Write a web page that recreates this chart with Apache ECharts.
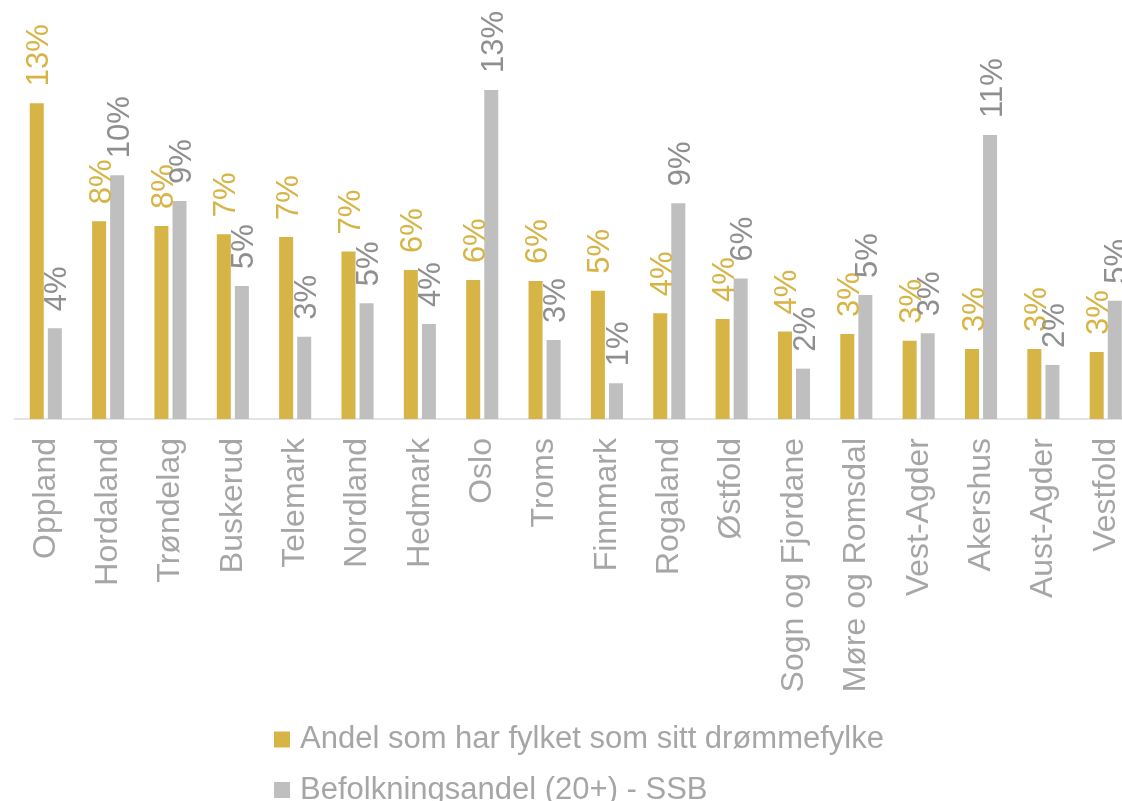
<!DOCTYPE html>
<html>
<head>
<meta charset="utf-8">
<title>Drømmefylke</title>
<script src="https://cdn.jsdelivr.net/npm/echarts@6/dist/echarts.min.js"></script>
<style>
  html, body { margin: 0; padding: 0; background: #fff; }
  #chart { width: 1122px; height: 801px; }
</style>
</head>
<body>
<div id="chart"></div>
<script>
const fylker = [
  'Oppland', 'Hordaland', 'Trøndelag', 'Buskerud', 'Telemark', 'Nordland',
  'Hedmark', 'Oslo', 'Troms', 'Finnmark', 'Rogaland', 'Østfold',
  'Sogn og Fjordane', 'Møre og Romsdal', 'Vest-Agder', 'Akershus', 'Aust-Agder', 'Vestfold'
]

// percent values
const drommefylke = [12.73, 7.97, 7.78, 7.45, 7.34, 6.75, 6.01, 5.60, 5.56, 5.17, 4.26, 4.03, 3.53, 3.43, 3.16, 2.82, 2.82, 2.70]
const befolkning = [3.66, 9.83, 8.79, 5.36, 3.32, 4.67, 3.83, 13.27, 3.19, 1.44, 8.70, 5.67, 2.03, 5.00, 3.46, 11.45, 2.18, 4.77]

const seriesNames = ['Andel som har fylket som sitt drømmefylke', 'Befolkningsandel (20+) - SSB']

const palette = {
  gold: '#d6b445',
  grey: '#bfbfbf',
  greyLabel: '#8f8f8f',
  text: '#a6a6a6',
  axis: '#e3e3e3',
}
const font = "'Liberation Sans', Arial, sans-serif"

const pct = (p) => `${Math.round(p.value)}%`

function barSeries(name, data, color, labelColor) {
  return {
    name,
    type: 'bar',
    data,
    barWidth: 14,
    barGap: '29%',
    itemStyle: { color },
    label: {
      show: true,
      position: 'top',
      rotate: 90,
      align: 'left',
      verticalAlign: 'middle',
      distance: 17,
      // offset is in the rotated frame: second value nudges the text right
      offset: [0, 3],
      color: labelColor,
      fontSize: 31,
      fontFamily: font,
      formatter: pct,
    },
  }
}

// one legend per row, stacked under the axis labels
function legendRow(name, top) {
  return {
    data: [name],
    left: 269,
    top,
    itemWidth: 16,
    itemHeight: 16,
    icon: 'rect',
    textStyle: {
      color: palette.text,
      fontSize: 31,
      fontFamily: font,
      padding: [0, 0, 0, 5],
    },
  }
}

const chart = echarts.init(document.getElementById('chart'), null, { renderer: 'canvas' })

chart.setOption({
  backgroundColor: '#fff',
  animation: false,
  grid: {
    left: 14.6,
    right: -14.9,
    top: 22.2,
    bottom: 382,
    containLabel: false,
    outerBoundsMode: 'none',
  },
  legend: [
    legendRow(seriesNames[0], 719),
    legendRow(seriesNames[1], 769.5),
  ],
  xAxis: {
    type: 'category',
    data: fylker,
    axisLine: { lineStyle: { color: palette.axis, width: 2 } },
    axisTick: { show: false },
    axisLabel: {
      interval: 0,
      rotate: 90,
      margin: 19,
      color: palette.text,
      fontSize: 32,
      fontFamily: font,
    },
    splitLine: { show: false },
  },
  yAxis: {
    type: 'value',
    min: 0,
    max: 16,
    show: false,
    splitLine: { show: false },
  },
  series: [
    barSeries(seriesNames[0], drommefylke, palette.gold, palette.gold),
    barSeries(seriesNames[1], befolkning, palette.grey, palette.greyLabel),
  ],
})
</script>
</body>
</html>
